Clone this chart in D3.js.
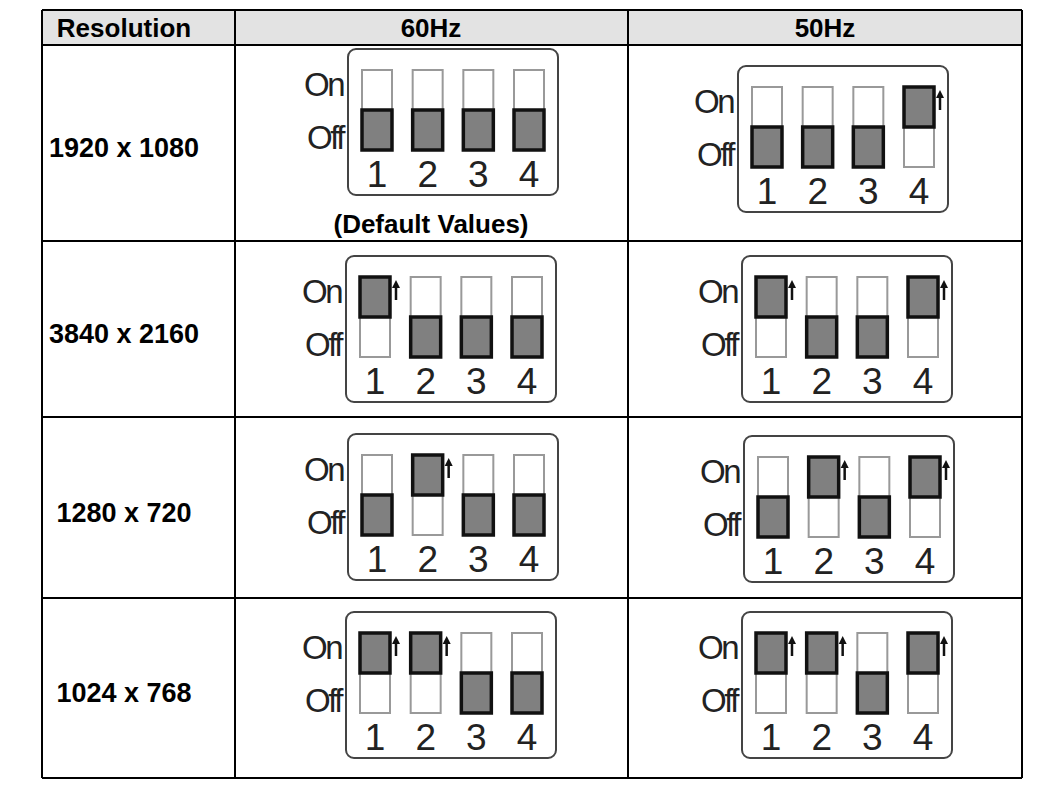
<!DOCTYPE html>
<html><head><meta charset="utf-8">
<script src="https://cdn.jsdelivr.net/npm/d3@7"></script>
<style>body{margin:0;background:#fff}</style>
</head><body><svg id="chart" width="1037" height="790"></svg>
<script>
var headers = ["Resolution", "60Hz", "50Hz"];
var resolutions = ["1920 x 1080", "3840 x 2160", "1280 x 720", "1024 x 768"];
// 1 = On, 0 = Off, switches 1..4
var sw60 = [[0,0,0,0],[1,0,0,0],[0,1,0,0],[1,1,0,0]];
var sw50 = [[0,0,0,1],[1,0,0,1],[0,1,0,1],[1,1,0,1]];
var notes60 = ["(Default Values)", "", "", ""];

var svg = d3.select("#chart");
var colX = [42, 235, 628, 1022];
var rowY = [10, 45, 241, 417, 598, 778];
var box60 = [[348,49],[346,256],[348,434],[346,612]];
var box50 = [[738,66],[742,256],[744,436],[742,612]];
var font = "Liberation Sans, Arial, sans-serif";

svg.append("rect").attr("x", colX[0]).attr("y", rowY[0])
  .attr("width", colX[3]-colX[0]).attr("height", rowY[1]-rowY[0]).attr("fill", "#e3e3e3");

var headX = [124, 431, 825];
headers.forEach(function(h, i) {
  svg.append("text").attr("x", headX[i]).attr("y", 37)
    .attr("text-anchor", "middle").attr("font-family", font)
    .attr("font-weight", "bold").attr("font-size", 26).text(h);
});
resolutions.forEach(function(r, i) {
  svg.append("text").attr("x", 124).attr("y", (rowY[i+1]+rowY[i+2])/2 + 14)
    .attr("text-anchor", "middle").attr("font-family", font)
    .attr("font-weight", "bold").attr("font-size", 27).text(r);
  if (notes60[i]) svg.append("text").attr("x", 431).attr("y", 233)
    .attr("text-anchor", "middle").attr("font-family", font)
    .attr("font-weight", "bold").attr("font-size", 26).text(notes60[i]);
});

colX.forEach(function(x) {
  svg.append("line").attr("x1", x).attr("x2", x).attr("y1", rowY[0]).attr("y2", rowY[5])
    .attr("stroke", "#000").attr("stroke-width", 2);
});
rowY.forEach(function(y) {
  svg.append("line").attr("x1", colX[0]).attr("x2", colX[3]).attr("y1", y).attr("y2", y)
    .attr("stroke", "#000").attr("stroke-width", 2);
});

var sx = d3.scaleBand().domain([1,2,3,4]).range([14, 196]).paddingInner(0.408).paddingOuter(0);

function drawSwitch(pos, states) {
  var g = svg.append("g").attr("transform", "translate(" + pos[0] + "," + pos[1] + ")");
  g.append("rect").attr("x", 0).attr("y", 0).attr("width", 210).attr("height", 146)
    .attr("rx", 8).attr("fill", "#fff").attr("stroke", "#444").attr("stroke-width", 2);
  var lbl = function(t, y) {
    g.append("text").attr("x", -5).attr("y", y).attr("text-anchor", "end")
      .attr("font-family", font).attr("font-size", 33)
      .attr("letter-spacing", -2.5).attr("fill", "#222").text(t);
  };
  lbl("On", 47); lbl("Off", 100);
  states.forEach(function(s, i) {
    var x = sx(i+1), w = sx.bandwidth();
    g.append("rect").attr("x", x).attr("y", 21).attr("width", w).attr("height", 80)
      .attr("fill", "#fff").attr("stroke", "#999").attr("stroke-width", 2);
    g.append("rect").attr("x", x).attr("y", s ? 21 : 61).attr("width", w).attr("height", 40)
      .attr("fill", "#808080").attr("stroke", "#111").attr("stroke-width", 3.5);
    if (s) {
      g.append("line").attr("x1", x+w+6).attr("x2", x+w+6).attr("y1", 44).attr("y2", 30)
        .attr("stroke", "#111").attr("stroke-width", 2.5);
      g.append("path").attr("d", "M" + (x+w+2) + ",32 L" + (x+w+6) + ",24 L" + (x+w+10) + ",32 Z").attr("fill", "#111");
    }
    g.append("text").attr("x", x + w/2).attr("y", 138).attr("text-anchor", "middle")
      .attr("font-family", font).attr("font-size", 37).attr("fill", "#222").text(i+1);
  });
}
sw60.forEach(function(s, i) { drawSwitch(box60[i], s); });
sw50.forEach(function(s, i) { drawSwitch(box50[i], s); });
</script></body></html>
